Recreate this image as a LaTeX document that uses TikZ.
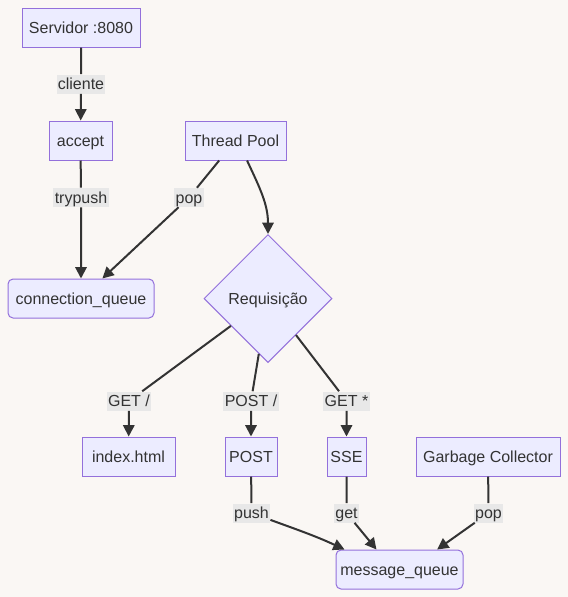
\documentclass[tikz,border=0pt]{standalone}
\usepackage{fontspec}
\setmainfont{Liberation Sans}
\usetikzlibrary{shapes.geometric, arrows.meta, positioning}
\definecolor{bgcol}{HTML}{FAF7F4}
\definecolor{nodefill}{HTML}{ECECFF}
\definecolor{nodeline}{HTML}{9370DB}
\definecolor{edgecol}{HTML}{333333}
\definecolor{lblfill}{HTML}{E8E8E8}
\tikzset{
  base/.style={draw=nodeline, fill=nodefill, line width=0.75pt, text=edgecol, font=\fontsize{12}{14}\selectfont, text height=8.6pt, text depth=0pt},
  process/.style={base, rectangle, minimum height=29.25pt, inner xsep=2pt, text centered},
  queue/.style={process, rounded corners=3.75pt},
  decision/.style={base, diamond, aspect=1, minimum width=96pt, minimum height=96pt, inner sep=0pt, text centered},
  lbl/.style={fill=lblfill, text=edgecol, font=\fontsize{12}{14}\selectfont, text height=8.6pt, text depth=0pt, inner xsep=1pt, inner ysep=0pt, minimum height=14.25pt},
  arrow/.style={line width=1.5pt, draw=edgecol, -{Triangle[length=8.5pt, width=8.5pt]}}
}

\begin{document}
\begin{tikzpicture}[x=0.75pt, y=0.75pt]

  \fill [bgcol] (0,0) rectangle (568,-597);

  \node (server) [process, minimum width=88.5pt] at (81,-27.5) {Servidor :8080};
  \node (accept) [process, minimum width=47.25pt] at (80.5,-140.5) {accept};
  \node (pool) [process, minimum width=75.75pt] at (235.5,-140.5) {Thread Pool};
  \node (connq) [queue, minimum width=109.5pt] at (81,-298.5) {connection\_queue};
  \node (request) [decision] at (268,-298.5) {Requisição};
  \node (index) [process, minimum width=69.75pt] at (128.5,-456.5) {index.html};
  \node (post) [process, minimum width=39pt] at (251,-456.5) {POST};
  \node (sse) [process, minimum width=29.25pt] at (346.5,-456.5) {SSE};
  \node (gc) [process, minimum width=108pt] at (488,-456.5) {Garbage Collector};
  \node (msgq) [queue, minimum width=95.25pt] at (399.5,-569.5) {message\_queue};

  \node (lcliente) [lbl] at (81,-84) {cliente};
  \node (ltrypush) [lbl] at (81,-197.5) {trypush};
  \node (lpop) [lbl] at (189,-197.5) {pop};
  \node (lgetroot) [lbl] at (129,-401) {GET /};
  \node (lpostroot) [lbl] at (251,-401) {POST /};
  \node (lgetall) [lbl] at (346.5,-401) {GET *};
  \node (lpush) [lbl] at (251.5,-513) {push};
  \node (lget) [lbl] at (346.5,-513) {get};
  \node (lpopgc) [lbl] at (488.5,-513) {pop};

  \draw [arrow] (server) -- (lcliente) -- (accept);
  \draw [arrow] (accept) -- (ltrypush) -- (connq);
  \draw [arrow] (pool) -- (lpop) -- (connq);
  \draw [arrow] (pool.300) to [out=-65, in=90] (request.north);
  \draw [arrow] (request) -- (lgetroot) -- (index);
  \draw [arrow] (request) -- (lpostroot) -- (post);
  \draw [arrow] (request) -- (lgetall) -- (sse);
  \draw [arrow] (post) -- (lpush) to [out=-20, in=155] (msgq.160);
  \draw [arrow] (sse) -- (lget) -- (msgq.139);
  \draw [arrow] (gc) -- (lpopgc) -- (msgq.28);

\end{tikzpicture}
\end{document}
